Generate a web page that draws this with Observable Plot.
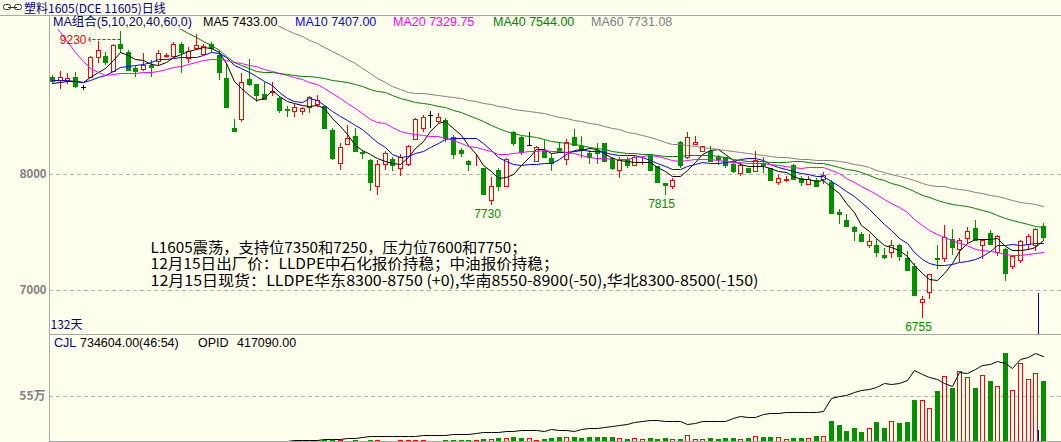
<!DOCTYPE html>
<html lang="zh">
<head>
<meta charset="utf-8">
<script src="https://cdn.jsdelivr.net/npm/d3@7"></script>
<script src="https://cdn.jsdelivr.net/npm/@observablehq/plot@0.6"></script>
<style>
  html, body { margin: 0; padding: 0; background: #FFFFEE; }
  #chart { position: relative; width: 1061px; height: 442px; overflow: hidden; background: #FFFFEE; font-family: "Liberation Sans", Arial, sans-serif; }
  #chart svg { display: block; }
  .abs { position: absolute; white-space: nowrap; }
  .lg { font-size: 12.5px; line-height: 13px; background: #FFFFEE; padding: 0 1px; }
</style>
</head>
<body>
<div id="chart"></div>
<script>
// ---------------- DATA ----------------
const titleText = "塑料1605(DCE 11605)日线";
const maGroupLabel = "MA组合(5,10,20,40,60,0)";
const maPeriods = [5, 10, 20, 40, 60];
const maLegendValues = ["7433.00", "7407.00", "7329.75", "7544.00", "7731.08"];
const priceTicks = [7000, 8000];
const volTicks = [550000];
const volTickLabels = ["55万"];
const dayCountLabel = "132天";
const lowLabelDays = [59, 82, 116];
const volLegendCJL = "734604.00(46:54)";
const volLegendOPID = "417090.00";
const annotationLines = [
  "L1605震荡，支持位7350和7250，压力位7600和7750；",
  "12月15日出厂价：LLDPE中石化报价持稳；中油报价持稳；",
  "12月15日现货：LLDPE华东8300-8750 (+0),华南8550-8900(-50),华北8300-8500(-150)"
];

const opens = [
8840,8810,8800,8835,8750,8840,9005,9020,8890,9125,
9055,8910,8905,8940,8975,9020,9020,9120,9000,9090,
9035,9125,9025,8825,8395,8475,8820,8775,8690,8710,
8655,8560,8545,8545,8580,8600,8590,8380,8095,8260,
8330,8190,8120,7895,8085,8130,8050,8085,8300,8400,
8510,8460,8465,8320,8210,8115,8110,8050,7775,8035,
7900,8365,8320,8250,8110,8195,8140,8225,8130,8315,
8245,8185,8205,8265,8140,8035,8130,8075,8110,8165,
8065,7925,7895,8280,8145,8260,8195,8200,8145,8145,
8085,8005,8050,8030,8095,8050,7935,7950,8080,7965,
7915,7950,7960,7935,7670,7600,7545,7485,7385,7385,
7300,7325,7385,7280,7210,6895,6985,7280,7280,7440,
7350,7450,7535,7385,7495,7330,7355,7205,7260,7400,
7385,7555];
const highs = [
8855,8890,8875,8880,8770,9015,9145,9055,9120,9230,
9070,8935,9040,8985,9070,9040,9140,9140,9095,9205,
9125,9140,9070,8955,8475,8870,8990,8780,8795,8795,
8670,8585,8600,8575,8670,8680,8595,8400,8265,8420,
8395,8210,8130,8125,8195,8150,8170,8250,8485,8510,
8545,8525,8485,8340,8225,8125,8170,8055,7975,8050,
8140,8370,8330,8360,8240,8295,8180,8280,8300,8385,
8330,8210,8265,8270,8150,8145,8145,8165,8140,8170,
8065,7925,7965,8285,8360,8325,8245,8240,8165,8150,
8095,8095,8055,8195,8150,8050,7995,7980,8085,7980,
7980,7965,8015,7950,7695,7655,7555,7500,7485,7440,
7365,7430,7400,7335,7235,6950,7140,7385,7560,7525,
7450,7540,7600,7440,7515,7475,7365,7300,7430,7480,
7535,7580];
const lows = [
8780,8730,8780,8740,8720,8825,8960,8940,8880,9040,
8895,8840,8890,8840,8940,9000,9010,8875,8955,9070,
9035,9055,8810,8580,8375,8445,8755,8620,8640,8675,
8525,8495,8495,8505,8525,8580,8395,8125,8035,8250,
8195,8130,7855,7820,8035,8025,7980,8065,8295,8365,
8395,8440,8280,8130,8150,8025,8070,7820,7730,7855,
7895,8245,8165,8240,8100,8150,8030,8180,8080,8240,
8140,8085,8085,8110,8035,7965,8050,8065,8075,8030,
7930,7815,7870,8050,8130,8250,8190,8110,8080,8055,
8010,7980,8010,8030,8010,7945,7905,7930,7950,7895,
7910,7890,7915,7660,7565,7540,7425,7415,7360,7285,
7270,7280,7250,7170,6955,6755,6920,7180,7240,7305,
7240,7400,7420,7265,7395,7290,7075,7180,7230,7345,
7340,7420];
const closes = [
8805,8835,8830,8760,8750,9010,9065,8965,9115,9090,
8895,8890,8940,8925,9045,9025,9125,9050,9060,9115,
9105,9090,8880,8580,8375,8795,8775,8680,8650,8715,
8555,8550,8580,8565,8660,8640,8395,8140,8230,8310,
8195,8180,7930,8090,8185,8080,8150,8240,8475,8495,
8510,8495,8310,8170,8185,8090,8115,7830,7895,7895,
8130,8265,8190,8250,8230,8150,8095,8210,8280,8250,
8210,8150,8180,8115,8050,8130,8080,8150,8115,8035,
7930,7905,7950,8080,8315,8280,8240,8115,8130,8080,
8025,8080,8015,8125,8080,7950,7965,7960,7960,7935,
7960,7900,7990,7665,7655,7555,7505,7425,7420,7325,
7285,7385,7290,7170,6955,6920,7135,7265,7455,7370,
7435,7505,7435,7435,7400,7465,7145,7290,7420,7465,
7525,7455];
// closes of the days before the first visible bar (feed the moving averages only)
const priorCloses = [
10450,10420,10480,10500,10460,10410,10380,10420,10450,10400,10360,10390,10430,10410,10370,10340,
10380,10400,10350,10320,10360,10390,10350,10310,10340,10300,10280,10320,10350,10310,10290,10300,
10280,10300,10320,10290,10310,10300,
10500,10500,10500,10500,10550,10450,10100,9800,9500,
9000,8850,8880,8860,8840,8830,8850,8815,8760,8790,8770,8780];
const volumes = [
1200,1500,1100,1800,900,2600,2400,1500,2800,2500,2200,1400,
1600,1300,1900,1100,2400,2600,1800,2300,1900,1700,2900,4200,
5200,4600,3800,3300,2900,2500,3600,2800,2600,2300,3100,2700,
8000,12000,10000,6000,7000,6000,12000,10000,6000,5000,7000,10000,
12000,7000,6000,5000,8000,12000,10000,12000,8000,20000,22000,33000,33000,45000,33000,
33000,12000,25000,37000,49000,49000,49000,37000,49000,49000,49000,49000,37000,25000,37000,25000,
37000,25000,37000,25000,25000,70000,25000,25000,37000,25000,37000,37000,25000,37000,62000,49000,
49000,49000,25000,37000,37000,37000,62000,62000,250000,197000,123000,160000,111000,160000,234000,160000,
246000,222000,234000,505000,505000,406000,616000,800000,653000,862000,788000,653000,813000,739000,677000,1084000,
628000,960000,763000,837000,734604];
const openInterest = [
200,200,300,300,300,400,400,500,500,500,600,600,600,700,700,800,800,800,900,900,1000,1000,
1000,1200,1400,1500,1600,1800,1900,2000,2200,2400,2600,2800,3000,3400,
8000,10000,11000,12500,14500,20000,24000,24000,24500,24500,24500,25000,26000,27000,28000,29000,
30000,32000,33000,35000,40000,46000,42000,44000,47000,50000,54000,56000,52000,49000,57000,55000,
52000,50000,58000,62000,65000,69000,73000,78000,85000,92000,97000,102000,101000,100000,99000,98000,
84000,90000,96000,98000,97000,98000,112000,120000,118000,116000,130000,136000,138000,140000,141000,142000,
143000,144000,145000,208000,218000,226000,238000,250000,256000,262000,285000,280000,284000,300000,347000,325000,
312000,305000,285000,268000,335000,330000,350000,370000,376000,393000,381000,355000,400000,410000,431000,417090];

// ---------------- STYLE ----------------
const BG = "#FFFFEE";
const UP = "#FF0000", DOWN = "#009000", FLAT = "#000000";
const maColors = ["#000000", "#0000FF", "#FF00FF", "#008000", "#808080"];
const GRID = "#B4B4B4", AXIS = "#A8A8A8";

// ---------------- DERIVED TABLES ----------------
const dirOf = (o, c) => (c > o ? "up" : c < o ? "down" : "flat");
const candles = closes.map((c, k) => ({
  i: k + 1, open: opens[k], high: highs[k], low: lows[k], close: c,
  volume: volumes[k], oi: openInterest[k], dir: dirOf(opens[k], c)
}));
const up = candles.filter(d => d.dir === "up");
const down = candles.filter(d => d.dir === "down");
const flat = candles.filter(d => d.dir === "flat");
const allCloses = priorCloses.concat(closes);
const maSeries = maPeriods.map(n => candles.map((d, k) => {
  const end = priorCloses.length + k + 1;
  return {i: d.i, ma: end >= n ? d3.mean(allCloses.slice(end - n, end)) : NaN};
}));
const hiCandle = candles.reduce((a, b) => (b.high > a.high ? b : a));
const lowCandles = lowLabelDays.map(k => candles[k - 1]);

const xDomain = [0.5635, 134.43];
const priceDomain = [6620.7, 9370.7];
const volDomain = [0, 1304250];
const oiScale = d3.scaleLinear([0, d3.max(openInterest)], [0, volDomain[1] * 0.832]);
const cursorAt = candles.length - 0.55;

const textWidth = s => { let w = 0; for (const ch of s) w += ch.charCodeAt(0) < 128 ? 8 : 16; return w; };

// ---------------- MAIN PANEL ----------------
const main = Plot.plot({
  width: 1061, height: 320,
  marginLeft: 49, marginRight: 0, marginTop: 0, marginBottom: 1,
  style: {background: "transparent", fontFamily: "Liberation Sans, Arial, sans-serif", fontSize: "12px"},
  x: {domain: xDomain, axis: null, round: true},
  y: {domain: priceDomain, axis: null, round: true},
  marks: [
    Plot.ruleY(priceTicks, {stroke: GRID, strokeDasharray: "4,3"}),
    Plot.axisY({ticks: priceTicks, label: null, tickSize: 0, tickPadding: 3, fontSize: 12, fontWeight: "bold", fill: "#808080", tickFormat: d => String(d)}),
    Plot.ruleX(up, {x: "i", y1: "low", y2: "high", stroke: UP}),
    Plot.ruleX(down, {x: "i", y1: "low", y2: "high", stroke: DOWN}),
    Plot.ruleX(flat, {x: "i", y1: "low", y2: "high", stroke: FLAT}),
    Plot.rect(up, {x1: "i", x2: "i", y1: "open", y2: "close", fill: BG, stroke: UP, insetLeft: -1.5, insetRight: -2.5, insetTop: 0.5, insetBottom: -0.5}),
    Plot.rect(down, {x1: "i", x2: "i", y1: "open", y2: "close", fill: DOWN, insetLeft: -2, insetRight: -3, insetBottom: -1}),
    Plot.ruleY(flat, {y: "close", x1: "i", x2: "i", insetLeft: -2, insetRight: -3, stroke: FLAT}),
    ...maSeries.map((s, j) => Plot.line(s, {x: "i", y: "ma", stroke: maColors[j], strokeWidth: 1, clip: true})),
    Plot.link([hiCandle], {x1: "i", y1: "high", x2: d => d.i - 4.1, y2: "high", dy: 8, stroke: UP, strokeDasharray: "3,2", markerEnd: "arrow"}),
    Plot.text([hiCandle], {x: "i", y: "high", text: d => String(d.high), textAnchor: "end", dx: -34, dy: 8.5, fill: UP, fontSize: 12}),
    Plot.text(lowCandles, {x: "i", y: "low", text: d => String(d.low), dx: -4, dy: 9, fill: DOWN, fontSize: 12}),
    ...annotationLines.map((t, j) => Plot.text([t], {frameAnchor: "top-left", textAnchor: "start", lineAnchor: "middle", dx: 101, dy: 232.5 + j * 16.5, fontFamily: "Noto Sans CJK SC", fontSize: 15, fill: "#000"})),
    Plot.text([dayCountLabel], {frameAnchor: "bottom-left", textAnchor: "start", lineAnchor: "middle", dx: 1, dy: -9, fill: "#000080", fontSize: 12, fontFamily: "Noto Sans CJK SC"}),
    Plot.ruleX([cursorAt], {x: d => d, y1: priceDomain[0], y2: 6975, stroke: "#0000A0"}),
    Plot.frame({anchor: "left", stroke: AXIS}),
    Plot.frame({anchor: "bottom", stroke: AXIS})
  ]
});
main.querySelectorAll("text").forEach(el => {
  if (annotationLines.includes(el.textContent)) {
    el.setAttribute("textLength", textWidth(el.textContent));
    el.setAttribute("lengthAdjust", "spacingAndGlyphs");
  }
});

// ---------------- VOLUME PANEL ----------------
const vol = Plot.plot({
  width: 1061, height: 107,
  marginLeft: 49, marginRight: 0, marginTop: 0, marginBottom: 1,
  style: {background: "transparent", fontFamily: "Liberation Sans, Arial, sans-serif", fontSize: "12px"},
  x: {domain: xDomain, axis: null, round: true},
  y: {domain: volDomain, axis: null, round: true, label: null},
  marks: [
    Plot.ruleY(volTicks, {stroke: GRID, strokeDasharray: "4,3"}),
    Plot.axisY({ticks: volTicks, label: null, tickSize: 0, tickPadding: 4, fontSize: 12, fontWeight: "bold", fill: "#808080", fontFamily: "Noto Sans CJK SC", tickFormat: d => volTickLabels[volTicks.indexOf(d)]}),
    Plot.rect(up.concat(flat), {x1: "i", x2: "i", y1: 0, y2: "volume", fill: BG, stroke: UP, insetLeft: -1.5, insetRight: -2.5, insetTop: 0.5, insetBottom: -0.5}),
    Plot.rect(down, {x1: "i", x2: "i", y1: 0, y2: "volume", fill: DOWN, insetLeft: -2, insetRight: -3}),
    Plot.line(candles, {x: "i", y: d => oiScale(d.oi), stroke: "#000", strokeWidth: 1}),
    Plot.ruleX([cursorAt], {x: d => d, y1: 0, y2: 135000, stroke: "#0000A0"}),
    Plot.frame({anchor: "left", stroke: AXIS}),
    Plot.frame({anchor: "bottom", stroke: AXIS})
  ]
});

// ---------------- ASSEMBLY ----------------
const chart = document.getElementById("chart");
function place(node, left, top) {
  node.style.position = "absolute"; node.style.left = left + "px"; node.style.top = top + "px";
  chart.appendChild(node);
}
place(main, 0, 15);
place(vol, 0, 335);

// title bar
const title = document.createElement("div");
title.className = "abs";
title.style.cssText = "left:0;top:0;width:1061px;height:15px;";
title.innerHTML =
  '<svg width="22" height="10" style="position:absolute;left:2px;top:2px">' +
  '<rect x="1.5" y="2.5" width="7" height="5" rx="2" fill="none" stroke="#303040"/>' +
  '<rect x="12.5" y="2.5" width="7" height="5" rx="2" fill="none" stroke="#303040"/>' +
  '<line x1="6" y1="5.5" x2="15" y2="5.5" stroke="#303040"/></svg>' +
  '<span style="position:absolute;left:24px;top:1px;font:12px/13px \'Noto Sans CJK SC\';color:#000080">' + titleText + '</span>';
chart.appendChild(title);
const sep = document.createElement("div");
sep.style.cssText = "position:absolute;left:0;top:15px;width:1061px;height:1px;background:" + AXIS + ";";
chart.appendChild(sep);

// MA legend row
const maLegendX = [203, 295, 393, 493, 591];
const lg0 = document.createElement("span");
lg0.className = "abs lg"; lg0.style.color = "#000080"; lg0.style.fontFamily = "Liberation Sans, 'Noto Sans CJK SC'";
lg0.textContent = maGroupLabel;
place(lg0, 52, 16);
maPeriods.forEach((n, j) => {
  const s = document.createElement("span");
  s.className = "abs lg"; s.style.color = maColors[j];
  s.textContent = "MA" + n + " " + maLegendValues[j];
  place(s, maLegendX[j] - 1, 16);
});

// volume legend row
const volLegend = [
  {t: "CJL", x: 53, c: "#000080"},
  {t: volLegendCJL, x: 79, c: "#000"},
  {t: "OPID", x: 197, c: "#000"},
  {t: volLegendOPID, x: 236, c: "#000"}
];
volLegend.forEach(e => {
  const s = document.createElement("span");
  s.className = "abs lg"; s.style.color = e.c; s.style.background = "transparent";
  s.textContent = e.t;
  place(s, e.x, 337);
});
</script>
</body>
</html>
